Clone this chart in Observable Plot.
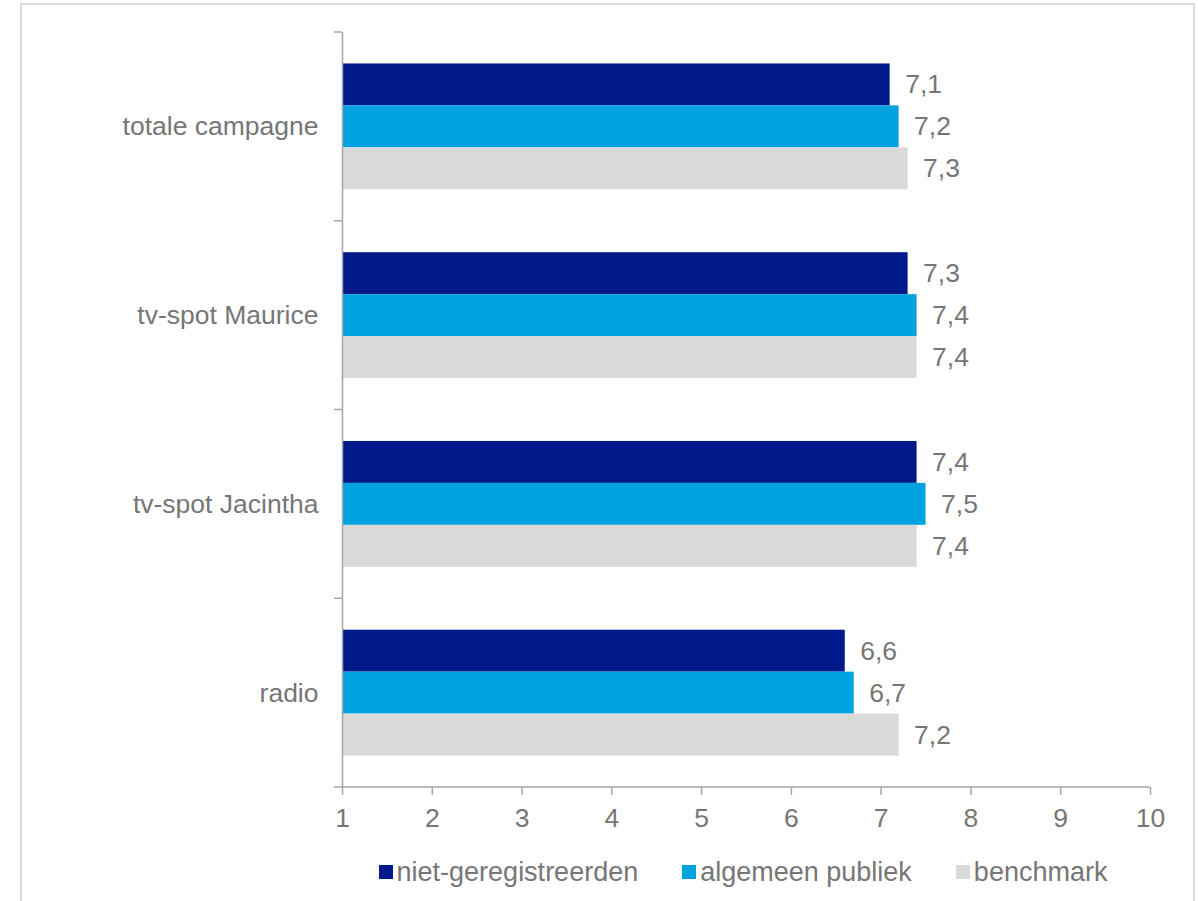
<!DOCTYPE html>
<html>
<head>
<meta charset="utf-8">
<script src="https://cdn.jsdelivr.net/npm/d3@7"></script>
<script src="https://cdn.jsdelivr.net/npm/@observablehq/plot@0.6"></script>
<style>
  html, body { margin: 0; padding: 0; background: #fff; overflow: hidden; }
  body { width: 1198px; height: 901px; position: relative; font-family: "Liberation Sans", Arial, sans-serif; }
  #frame { position: absolute; left: 20px; top: 3px; width: 1175px; height: 1000px; border: 2px solid #d9d9d9; box-sizing: border-box; }
  #chart { position: absolute; left: 0; top: 0; }
  #legend { position: absolute; left: 339px; width: 808px; top: 857px; display: flex; justify-content: center; align-items: center; font-size: 27px; color: #767676; line-height: 30px; }
  #legend .item { display: flex; align-items: center; margin: 0 22px; white-space: nowrap; }
  #legend .sw { width: 14px; height: 14px; margin-right: 4px; }
</style>
</head>
<body>
<div id="frame"></div>
<div id="chart"></div>
<div id="legend"></div>
<script>
const categories = ["totale campagne", "tv-spot Maurice", "tv-spot Jacintha", "radio"];
const series = ["niet-geregistreerden", "algemeen publiek", "benchmark"];
const nietGeregistreerden = [7.1, 7.3, 7.4, 6.6];
const algemeenPubliek = [7.2, 7.4, 7.5, 6.7];
const benchmark = [7.3, 7.4, 7.4, 7.2];
const xDomain = [1, 10];
const xTicks = [1, 2, 3, 4, 5, 6, 7, 8, 9, 10];
const colors = ["#001a8c", "#00a2df", "#d9d9d9"];

const textColor = "#767676";
const axisColor = "#a6a6a6";
const fontSize = 26.5;

const valuesBySeries = [nietGeregistreerden, algemeenPubliek, benchmark];
const data = [];
categories.forEach((c, i) => {
  series.forEach((s, j) => {
    data.push({category: c, series: s, value: valuesBySeries[j][i]});
  });
});

const fmt = v => v.toFixed(1).replace(".", ",");

const chart = Plot.plot({
  width: 1198,
  height: 845,
  marginLeft: 342,
  marginRight: 48,
  marginTop: 32,
  marginBottom: 58,
  style: {fontFamily: "'Liberation Sans', Arial, sans-serif", fontSize: fontSize + "px", color: textColor, background: "transparent"},
  x: {domain: xDomain, axis: null},
  y: {domain: series, paddingInner: 0, paddingOuter: 0.75, round: false, axis: null},
  fy: {domain: categories, padding: 0, round: false, axis: null},
  color: {domain: series, range: colors},
  marks: [
    Plot.barX(data, {x1: () => xDomain[0], x2: "value", y: "series", fy: "category", fill: "series", insetTop: 0, insetBottom: 0}),
    Plot.text(data, {x: "value", y: "series", fy: "category", text: d => fmt(d.value), textAnchor: "start", dx: 15, fill: textColor, fontSize: fontSize}),
    Plot.ruleX([xDomain[0]], {stroke: axisColor, strokeWidth: 1.5}),
    Plot.axisFy({anchor: "left", tickSize: 0, tickPadding: 24, fontSize: fontSize, fill: textColor, label: null}),
    Plot.axisX({ticks: xTicks, tickSize: 8, tickPadding: 13, fontSize: fontSize, stroke: axisColor, strokeWidth: 1.5, fill: textColor, label: null, tickFormat: d => String(d)})
  ]
});

document.getElementById("chart").appendChild(chart);

// category boundary ticks and the x axis baseline, positioned through Plot's own scales
const sx = chart.scale("x");
const sfy = chart.scale("fy");
const x0 = sx.apply(xDomain[0]);
const x1 = sx.apply(xDomain[1]);
const bw = sfy.bandwidth;
const svg = d3.select(chart);
const g = svg.append("g").attr("stroke", axisColor).attr("stroke-width", 1.5);
const bounds = categories.map(c => sfy.apply(c));
bounds.push(sfy.apply(categories[categories.length - 1]) + bw);
bounds.forEach((yy, i) => {
  const last = i === bounds.length - 1;
  g.append("line")
    .attr("x1", x0 - 8).attr("x2", last ? x1 : x0)
    .attr("y1", yy).attr("y2", yy);
});

const legend = document.getElementById("legend");
series.forEach((s, i) => {
  const item = document.createElement("div");
  item.className = "item";
  const sw = document.createElement("span");
  sw.className = "sw";
  sw.style.background = colors[i];
  const t = document.createElement("span");
  t.textContent = s;
  item.appendChild(sw);
  item.appendChild(t);
  legend.appendChild(item);
});
</script>
</body>
</html>
